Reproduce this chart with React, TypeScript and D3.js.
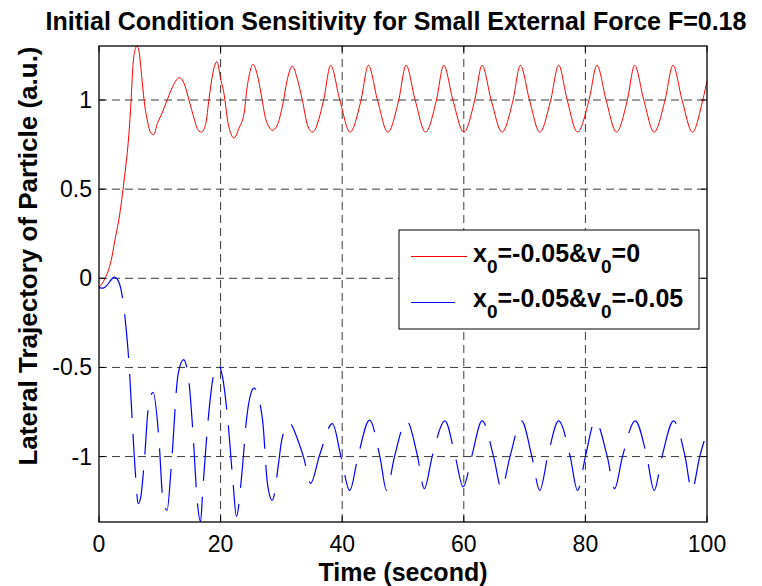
import React from 'react';
import * as d3 from 'd3';

const titleText = 'Initial Condition Sensitivity for Small External Force F=0.18';
const xLabelText = 'Time (second)';
const yLabelText = 'Lateral Trajectory of Particle (a.u.)';

const xTicks = [0, 20, 40, 60, 80, 100];
const xTickLabels = ['0', '20', '40', '60', '80', '100'];
const yTicks = [-1, -0.5, 0, 0.5, 1];
const yTickLabels = ['-1', '-0.5', '0', '0.5', '1'];

const xDomain = [0, 100];
const yDomain = [-1.367, 1.303];

// red: x0=-0.05, v0=0  (time, position)
const redSeries: [number, number][] = [
  [0, -0.05], [0.5, -0.03], [1.0, 0.0], [1.5, 0.04], [2.0, 0.1], [2.6, 0.21], [3.5, 0.38],
  [4.2, 0.57], [4.8, 0.76], [5.2, 0.95], [5.6, 1.2], [6.0, 1.29], [6.24, 1.303], [6.6, 1.27],
  [7.0, 1.14], [7.45, 0.99], [8.0, 0.877], [8.5, 0.817], [9.0, 0.806], [9.6, 0.868],
  [10.45, 0.933], [11.3, 1.008], [12.37, 1.093], [13.2, 1.125], [14.0, 1.093], [14.8, 0.999],
  [15.65, 0.896], [16.3, 0.83], [16.85, 0.82], [17.57, 0.868], [18.1, 1.008], [18.67, 1.14],
  [19.4, 1.215], [20.0, 1.12], [20.6, 1.027], [21.1, 0.896], [21.7, 0.81], [22.2, 0.787],
  [23.0, 0.84], [23.9, 0.933], [24.3, 1.055], [24.85, 1.16], [25.3, 1.2], [26.05, 1.14],
  [26.7, 1.027], [27.4, 0.896], [27.97, 0.849], [28.5, 0.83], [29.3, 0.858], [30.2, 0.971],
  [31.0, 1.12], [31.8, 1.19], [32.6, 1.12], [33.45, 0.999], [34.3, 0.858],
  [35.1, 0.82], [36.95, 1.0], [38.1, 1.195], [39.6, 1.0],
  [41.3, 0.82], [43.1, 1.0], [44.3, 1.195], [45.8, 1.0],
  [47.5, 0.82], [49.3, 1.0], [50.5, 1.195], [52.0, 1.0],
  [53.7, 0.82], [55.5, 1.0], [56.7, 1.195], [58.2, 1.0],
  [60.0, 0.82], [61.8, 1.0], [63.0, 1.195], [64.5, 1.0],
  [66.3, 0.82], [68.1, 1.0], [69.3, 1.195], [70.8, 1.0],
  [72.5, 0.82], [74.3, 1.0], [75.6, 1.195], [77.0, 1.0],
  [78.7, 0.82], [80.6, 1.0], [81.9, 1.195], [83.4, 1.0],
  [85.1, 0.82], [86.9, 1.0], [88.1, 1.195], [89.6, 1.0],
  [91.3, 0.82], [93.1, 1.0], [94.4, 1.195], [95.9, 1.0],
  [97.6, 0.82], [99.3, 1.0], [100, 1.106],
];

// blue: x0=-0.05, v0=-0.05
const blueSeries: [number, number][] = [
  [0, -0.052], [0.7, -0.055], [1.3, -0.04], [2.0, -0.008], [2.5, 0.007], [3.0, -0.005],
  [3.6, -0.06], [4.0, -0.14], [4.4, -0.26], [4.9, -0.46], [5.47, -0.8], [6.0, -1.1],
  [6.45, -1.264], [6.9, -1.22], [7.4, -1.05], [8.2, -0.7], [8.9, -0.64], [9.85, -0.9],
  [10.5, -1.235], [11.2, -1.3], [11.9, -1.05], [13.0, -0.54], [13.9, -0.456], [14.65, -0.54],
  [15.5, -0.89], [16.1, -1.226], [16.7, -1.365], [17.1, -1.17], [18.1, -0.74], [18.8, -0.55],
  [19.65, -0.485], [20.3, -0.55], [21.2, -0.8], [22.05, -1.15], [22.6, -1.335], [23.5, -1.095],
  [24.3, -0.78], [25.0, -0.644], [25.5, -0.616], [26.9, -0.794], [27.7, -1.15], [28.5, -1.245],
  [29.6, -1.02], [30.0, -0.917], [31.25, -0.81], [32.7, -0.907], [33.7, -1.01], [34.8, -1.15],
  [36.3, -0.99], [38.4, -0.815], [39.8, -1.0],
  [41.25, -1.19], [42.6, -1.0], [44.5, -0.795], [46.2, -1.0],
  [47.3, -1.19], [48.6, -1.0], [50.6, -0.8], [52.4, -1.0],
  [53.5, -1.18], [54.8, -1.0], [56.9, -0.8], [58.6, -1.0],
  [59.9, -1.17], [61.3, -1.0], [63.0, -0.8], [64.9, -1.0],
  [66.2, -1.18], [67.6, -1.0], [69.5, -0.8], [71.2, -1.0],
  [72.5, -1.19], [73.8, -1.0], [75.6, -0.8], [77.5, -1.0],
  [78.7, -1.19], [80.0, -1.0], [81.6, -0.8], [83.6, -1.0],
  [84.8, -1.18], [86.1, -1.0], [88.2, -0.8], [90.1, -1.0],
  [91.3, -1.19], [92.6, -1.0], [94.5, -0.8], [96.4, -1.0],
  [97.5, -1.19], [98.8, -1.0], [100, -0.86],
];

const FONT = '"Liberation Sans", Arial, Helvetica, sans-serif';

export default function App() {
  const left = 99, right = 707, top = 46, bottom = 522;
  const x = d3.scaleLinear().domain(xDomain).range([left, right]);
  const y = d3.scaleLinear().domain(yDomain).range([bottom, top]);
  const line = d3
    .line<[number, number]>()
    .x((d) => x(d[0]))
    .y((d) => y(d[1]))
    .curve(d3.curveMonotoneX);

  const tickLen = 6;
  const gridColor = '#3a3a3a';

  return (
    <svg
      width={762}
      height={586}
      style={{ position: 'absolute', left: 0, top: 0, background: '#fff' }}
      fontFamily={FONT}
    >
      <rect x={0} y={0} width={762} height={586} fill="#fff" />
      {/* grid */}
      {xTicks.slice(1, -1).map((t) => (
        <line key={'gx' + t} x1={x(t)} x2={x(t)} y1={top} y2={bottom}
          stroke={gridColor} strokeWidth={1} strokeDasharray="8,5" />
      ))}
      {yTicks.map((t) => (
        <line key={'gy' + t} x1={left} x2={right} y1={y(t)} y2={y(t)}
          stroke={gridColor} strokeWidth={1} strokeDasharray="8,5" />
      ))}
      {/* series */}
      <path d={line(redSeries) || ''} fill="none" stroke="#ff0000" strokeWidth={1} />
      <path d={line(blueSeries) || ''} fill="none" stroke="#0000ff" strokeWidth={1.2}
        strokeDasharray="44,16" />
      {/* ticks */}
      {xTicks.map((t) => (
        <g key={'tx' + t}>
          <line x1={x(t)} x2={x(t)} y1={bottom} y2={bottom - tickLen} stroke="#000" />
          <line x1={x(t)} x2={x(t)} y1={top} y2={top + tickLen} stroke="#000" />
        </g>
      ))}
      {yTicks.map((t) => (
        <g key={'ty' + t}>
          <line x1={left} x2={left + tickLen} y1={y(t)} y2={y(t)} stroke="#000" />
          <line x1={right} x2={right - tickLen} y1={y(t)} y2={y(t)} stroke="#000" />
        </g>
      ))}
      {/* box */}
      <rect x={left} y={top} width={right - left} height={bottom - top} fill="none"
        stroke="#000" strokeWidth={1.3} />
      {/* tick labels */}
      {xTicks.map((t, i) => (
        <text key={'lx' + t} x={x(t)} y={bottom + 30} textAnchor="middle" fontSize={23}>
          {xTickLabels[i]}
        </text>
      ))}
      {yTicks.map((t, i) => (
        <text key={'ly' + t} x={left - 7} y={y(t) + 8} textAnchor="end" fontSize={23}>
          {yTickLabels[i]}
        </text>
      ))}
      {/* labels */}
      <text x={396} y={30} textAnchor="middle" fontSize={25} fontWeight="bold">
        {titleText}
      </text>
      <text x={(left + right) / 2} y={581} textAnchor="middle" fontSize={25} fontWeight="bold">
        {xLabelText}
      </text>
      <text transform={`translate(37, ${(top + bottom) / 2 - 28}) rotate(-90)`} textAnchor="middle"
        fontSize={26} fontWeight="bold">
        {yLabelText}
      </text>
      {/* legend */}
      <g>
        <rect x={399} y={230} width={300} height={99} fill="#fff" stroke="#000" strokeWidth={1} />
        <line x1={411} x2={467} y1={256.5} y2={256.5} stroke="#ff0000" strokeWidth={1} />
        <line x1={411} x2={467} y1={302.5} y2={302.5} stroke="#0000ff" strokeWidth={1.2}
          strokeDasharray="44,16" />
        <text x={473} y={262} fontSize={25} fontWeight="bold">
          x<tspan fontSize={19} dy={11}>0</tspan>
          <tspan dy={-11}>=-0.05&amp;v</tspan>
          <tspan fontSize={19} dy={11}>0</tspan>
          <tspan dy={-11}>=0</tspan>
        </text>
        <text x={473} y={307} fontSize={25} fontWeight="bold">
          x<tspan fontSize={19} dy={11}>0</tspan>
          <tspan dy={-11}>=-0.05&amp;v</tspan>
          <tspan fontSize={19} dy={11}>0</tspan>
          <tspan dy={-11}>=-0.05</tspan>
        </text>
      </g>
    </svg>
  );
}
